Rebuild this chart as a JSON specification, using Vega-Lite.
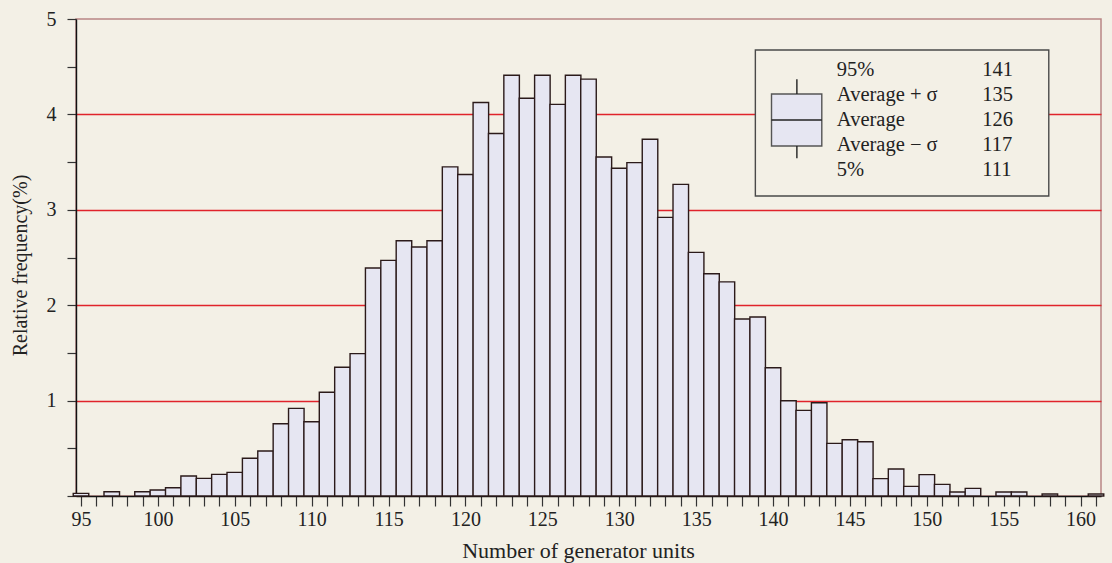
{
  "$schema": "https://vega.github.io/schema/vega-lite/v6.json",
  "width": 1025,
  "height": 477,
  "autosize": {"type": "none"},
  "padding": {"left": 76, "top": 19, "right": 11, "bottom": 67},
  "background": "#f3f0e6",
  "config": {
    "view": {"stroke": "#b98585", "strokeWidth": 1.5},
    "font": "Liberation Serif",
    "axis": {"labelFont": "Liberation Serif", "titleFont": "Liberation Serif", "labelColor": "#222222", "titleColor": "#222222", "titleFontWeight": "normal"}
  },
  "datasets": {
    "hist": [
      {"units": 95, "freq": 0.028}, {"units": 97, "freq": 0.045}, {"units": 99, "freq": 0.045},
      {"units": 100, "freq": 0.063}, {"units": 101, "freq": 0.087}, {"units": 102, "freq": 0.21},
      {"units": 103, "freq": 0.185}, {"units": 104, "freq": 0.227}, {"units": 105, "freq": 0.248},
      {"units": 106, "freq": 0.395}, {"units": 107, "freq": 0.472}, {"units": 108, "freq": 0.758},
      {"units": 109, "freq": 0.919}, {"units": 110, "freq": 0.779}, {"units": 111, "freq": 1.087},
      {"units": 112, "freq": 1.349}, {"units": 113, "freq": 1.492}, {"units": 114, "freq": 2.39},
      {"units": 115, "freq": 2.47}, {"units": 116, "freq": 2.676}, {"units": 117, "freq": 2.61},
      {"units": 118, "freq": 2.676}, {"units": 119, "freq": 3.45}, {"units": 120, "freq": 3.37},
      {"units": 121, "freq": 4.125}, {"units": 122, "freq": 3.8}, {"units": 123, "freq": 4.41},
      {"units": 124, "freq": 4.17}, {"units": 125, "freq": 4.41}, {"units": 126, "freq": 4.105},
      {"units": 127, "freq": 4.41}, {"units": 128, "freq": 4.37}, {"units": 129, "freq": 3.553},
      {"units": 130, "freq": 3.435}, {"units": 131, "freq": 3.494}, {"units": 132, "freq": 3.739},
      {"units": 133, "freq": 2.921}, {"units": 134, "freq": 3.267}, {"units": 135, "freq": 2.554},
      {"units": 136, "freq": 2.33}, {"units": 137, "freq": 2.245}, {"units": 138, "freq": 1.855},
      {"units": 139, "freq": 1.876}, {"units": 140, "freq": 1.345}, {"units": 141, "freq": 0.999},
      {"units": 142, "freq": 0.898}, {"units": 143, "freq": 0.978}, {"units": 144, "freq": 0.552},
      {"units": 145, "freq": 0.59}, {"units": 146, "freq": 0.569}, {"units": 147, "freq": 0.182},
      {"units": 148, "freq": 0.283}, {"units": 149, "freq": 0.101}, {"units": 150, "freq": 0.224},
      {"units": 151, "freq": 0.122}, {"units": 152, "freq": 0.042}, {"units": 153, "freq": 0.08},
      {"units": 155, "freq": 0.042}, {"units": 156, "freq": 0.042}, {"units": 158, "freq": 0.021},
      {"units": 161, "freq": 0.021}
    ],
    "legendBox": [{"units": 138.85, "units2": 157.93, "freq": 4.675, "freq2": 3.145}],
    "glyphBox": [{"units": 139.9, "units2": 143.17, "freq": 4.214, "freq2": 3.669}],
    "glyphRules": [
      {"units": 141.55, "units2": 141.55, "freq": 4.368, "freq2": 4.214},
      {"units": 141.55, "units2": 141.55, "freq": 3.669, "freq2": 3.54},
      {"units": 139.9, "units2": 143.17, "freq": 3.941, "freq2": 3.941}
    ],
    "legendText": [
      {"units": 144.15, "freq": 4.465, "label": "95%"},
      {"units": 144.15, "freq": 4.203, "label": "Average + σ"},
      {"units": 144.15, "freq": 3.941, "label": "Average"},
      {"units": 144.15, "freq": 3.679, "label": "Average − σ"},
      {"units": 144.15, "freq": 3.417, "label": "5%"},
      {"units": 153.6, "freq": 4.465, "label": "141"},
      {"units": 153.6, "freq": 4.203, "label": "135"},
      {"units": 153.6, "freq": 3.941, "label": "126"},
      {"units": 153.6, "freq": 3.679, "label": "117"},
      {"units": 153.6, "freq": 3.417, "label": "111"}
    ]
  },
  "encoding": {
    "x": {
      "field": "units", "type": "quantitative",
      "scale": {"domain": [95, 161], "nice": false, "zero": false},
      "axis": {
        "title": "Number of generator units",
        "values": [95,96,97,98,99,100,101,102,103,104,105,106,107,108,109,110,111,112,113,114,115,116,117,118,119,120,121,122,123,124,125,126,127,128,129,130,131,132,133,134,135,136,137,138,139,140,141,142,143,144,145,146,147,148,149,150,151,152,153,154,155,156,157,158,159,160,161],
        "labelExpr": "datum.value % 5 === 0 ? datum.value : ''",
        "labelFontSize": 20, "titleFontSize": 22,
        "tickSize": 10, "tickColor": "#333333", "tickWidth": 1.2,
        "domainColor": "#111111", "domainWidth": 1.4,
        "labelPadding": 3, "titlePadding": 11, "titleX": 502,
        "labelFlush": false, "labelOverlap": false, "labelBound": false, "grid": false
      }
    },
    "y": {
      "field": "freq", "type": "quantitative",
      "scale": {"domain": [0, 5], "nice": false, "zero": false},
      "axis": {
        "title": "Relative frequency(%)",
        "values": [0, 0.5, 1, 1.5, 2, 2.5, 3, 3.5, 4, 4.5, 5],
        "labelExpr": "datum.value % 1 === 0 && datum.value > 0 ? datum.value : ''",
        "labelFontSize": 20, "titleFontSize": 20,
        "tickSize": 9, "tickColor": "#333333", "tickWidth": 1.2,
        "domainColor": "#111111", "domainWidth": 1.4,
        "labelPadding": 11, "titlePadding": 16, "titleY": 246,
        "labelOverlap": false,
        "grid": true, "gridWidth": 1.5,
        "gridColor": {"condition": {"test": "datum.value % 1 === 0 && datum.value > 0 && datum.value < 5", "value": "#e0232b"}, "value": "transparent"}
      }
    }
  },
  "layer": [
    {
      "data": {"name": "hist"},
      "mark": {"type": "bar", "width": 15.53, "fill": "#e6e6f2", "stroke": "#2b1a1a", "strokeWidth": 1.4, "clip": false}
    },
    {
      "data": {"name": "legendBox"},
      "mark": {"type": "rect", "fill": "#f3f0e6", "stroke": "#4a4a4a", "strokeWidth": 1.4},
      "encoding": {"x2": {"field": "units2"}, "y2": {"field": "freq2"}}
    },
    {
      "data": {"name": "glyphBox"},
      "mark": {"type": "rect", "fill": "#e6e6f2", "stroke": "#555555", "strokeWidth": 1.4},
      "encoding": {"x2": {"field": "units2"}, "y2": {"field": "freq2"}}
    },
    {
      "data": {"name": "glyphRules"},
      "mark": {"type": "rule", "stroke": "#222222", "strokeWidth": 1.4},
      "encoding": {"x2": {"field": "units2"}, "y2": {"field": "freq2"}}
    },
    {
      "data": {"name": "legendText"},
      "mark": {"type": "text", "align": "left", "baseline": "middle", "fontSize": 20.5, "font": "Liberation Serif", "color": "#222222"},
      "encoding": {"text": {"field": "label"}}
    }
  ]
}
